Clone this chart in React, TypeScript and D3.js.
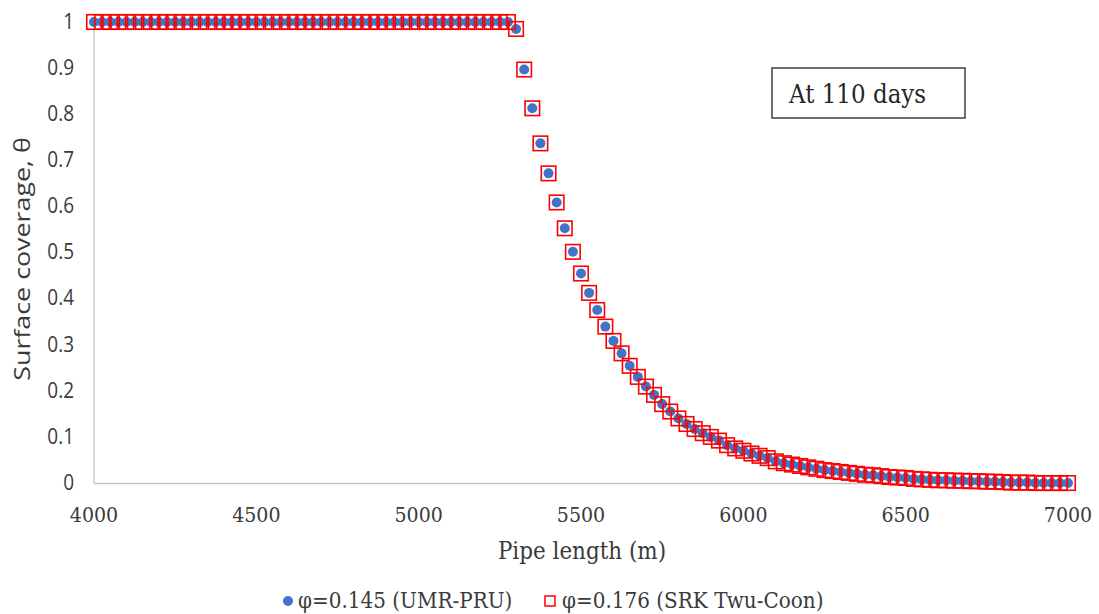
import React from "react";
import * as d3 from "d3";

const pipeLength: number[] = [
  4000, 4025, 4050, 4075, 4100, 4125, 4150, 4175, 4200, 4225, 4250, 4275, 4300, 4325, 4350, 4375,
  4400, 4425, 4450, 4475, 4500, 4525, 4550, 4575, 4600, 4625, 4650, 4675, 4700, 4725, 4750, 4775,
  4800, 4825, 4850, 4875, 4900, 4925, 4950, 4975, 5000, 5025, 5050, 5075, 5100, 5125, 5150, 5175,
  5200, 5225, 5250, 5275, 5300, 5325, 5350, 5375, 5400, 5425, 5450, 5475, 5500, 5525, 5550, 5575,
  5600, 5625, 5650, 5675, 5700, 5725, 5750, 5775, 5800, 5825, 5850, 5875, 5900, 5925, 5950, 5975,
  6000, 6025, 6050, 6075, 6100, 6125, 6150, 6175, 6200, 6225, 6250, 6275, 6300, 6325, 6350, 6375,
  6400, 6425, 6450, 6475, 6500, 6525, 6550, 6575, 6600, 6625, 6650, 6675, 6700, 6725, 6750, 6775,
  6800, 6825, 6850, 6875, 6900, 6925, 6950, 6975, 7000,
];

const coverageUMR: number[] = [
  1, 1, 1, 1, 1, 1, 1, 1, 1, 1, 1, 1, 1, 1, 1, 1,
  1, 1, 1, 1, 1, 1, 1, 1, 1, 1, 1, 1, 1, 1, 1, 1,
  1, 1, 1, 1, 1, 1, 1, 1, 1, 1, 1, 1, 1, 1, 1, 1,
  1, 1, 1, 1, 0.985, 0.897, 0.813, 0.737, 0.672, 0.609, 0.553, 0.502, 0.455, 0.413, 0.376, 0.340,
  0.309, 0.282, 0.255, 0.231, 0.210, 0.192, 0.172, 0.156, 0.141, 0.129, 0.118, 0.109, 0.101, 0.093, 0.083, 0.076,
  0.071, 0.065, 0.060, 0.055, 0.048, 0.044, 0.041, 0.038, 0.035, 0.032, 0.029, 0.027, 0.025, 0.023, 0.021, 0.019,
  0.018, 0.016, 0.014, 0.013, 0.012, 0.010, 0.009, 0.008, 0.007, 0.007, 0.006, 0.006, 0.005, 0.005, 0.004, 0.004,
  0.003, 0.002, 0.002, 0.002, 0.001, 0.001, 0.001, 0.001, 0.001,
];

const coverageSRK: number[] = [
  1, 1, 1, 1, 1, 1, 1, 1, 1, 1, 1, 1, 1, 1, 1, 1,
  1, 1, 1, 1, 1, 1, 1, 1, 1, 1, 1, 1, 1, 1, 1, 1,
  1, 1, 1, 1, 1, 1, 1, 1, 1, 1, 1, 1, 1, 1, 1, 1,
  1, 1, 1, 1, 0.985, 0.897, 0.813, 0.737, 0.672, 0.609, 0.553, 0.502, 0.455, 0.413, 0.376, 0.340,
  0.309, 0.282, 0.255, 0.231, 0.210, 0.192, 0.172, 0.156, 0.141, 0.129, 0.118, 0.109, 0.101, 0.093, 0.083, 0.076,
  0.071, 0.065, 0.060, 0.055, 0.048, 0.044, 0.041, 0.038, 0.035, 0.032, 0.029, 0.027, 0.025, 0.023, 0.021, 0.019,
  0.018, 0.016, 0.014, 0.013, 0.012, 0.010, 0.009, 0.008, 0.007, 0.007, 0.006, 0.006, 0.005, 0.005, 0.004, 0.004,
  0.003, 0.002, 0.002, 0.002, 0.001, 0.001, 0.001, 0.001, 0.001,
];

const xTicks: number[] = [4000, 4500, 5000, 5500, 6000, 6500, 7000];
const yTicks: number[] = [0, 0.1, 0.2, 0.3, 0.4, 0.5, 0.6, 0.7, 0.8, 0.9, 1];

const seriesNames = ["φ=0.145 (UMR-PRU)", "φ=0.176 (SRK Twu-Coon)"];
const annotation = "At 110 days";
const xTitle = "Pipe length (m)";
const yTitle = "Surface coverage, θ";

const W = 1099;
const H = 614;
const SERIF = "'DejaVu Serif', serif";
const SANS = "'Open Sans', sans-serif";
const BLUE = "#4472C4";
const RED = "#FF0000";
const TXT = "#3b3b3b";
const SY = 1.12;

function T(props: {
  x: number;
  y: number;
  anchor?: "start" | "middle" | "end";
  family: string;
  size: number;
  children: React.ReactNode;
  fill?: string;
}) {
  return (
    <g transform={`translate(${props.x},${props.y}) scale(1,${SY})`}>
      <text
        x={0}
        y={0}
        textAnchor={props.anchor || "start"}
        fontFamily={props.family}
        fontSize={props.size}
        fill={props.fill || TXT}
      >
        {props.children}
      </text>
    </g>
  );
}

export default function App() {
  const x = d3.scaleLinear().domain([4000, 7000]).range([94, 1068]);
  const y = d3.scaleLinear().domain([0, 1]).range([483.5, 22]);
  const sq = 14.5;

  return (
    <div style={{ position: "fixed", left: 0, top: 0 }}>
      <svg width={W} height={H} style={{ display: "block", background: "#fff" }}>
        <rect x={0} y={0} width={W} height={H} fill="#fff" />
        {/* axes */}
        <line x1={x(4000)} x2={x(4000)} y1={y(1)} y2={y(0)} stroke="#c4c4c4" strokeWidth={1.3} />
        <line x1={x(4000)} x2={x(7000)} y1={y(0)} y2={y(0)} stroke="#c4c4c4" strokeWidth={1.3} />
        {yTicks.map((t) => (
          <T key={"y" + t} x={74} y={y(t) + 6.5} anchor="end" family={SANS} size={19}>
            {d3.format("~g")(t)}
          </T>
        ))}
        {xTicks.map((t) => (
          <T key={"x" + t} x={x(t)} y={522} anchor="middle" family={SERIF} size={19}>
            {t}
          </T>
        ))}
        <T x={582} y={559} anchor="middle" family={SERIF} size={21.5}>
          {xTitle}
        </T>
        <g transform={`translate(30,259) rotate(-90) scale(1.22,1)`}>
          <text x={0} y={0} textAnchor="middle" fontFamily={SANS} fontSize={22} fill={TXT}>
            {yTitle}
          </text>
        </g>
        {/* series */}
        <g>
          {pipeLength.map((d, i) => (
            <circle key={"c" + i} cx={x(d)} cy={y(coverageUMR[i])} r={5} fill={BLUE} />
          ))}
        </g>
        <g>
          {pipeLength.map((d, i) => (
            <rect
              key={"s" + i}
              x={x(d) - sq / 2}
              y={y(coverageSRK[i]) - sq / 2}
              width={sq}
              height={sq}
              fill="none"
              stroke={RED}
              strokeWidth={1.6}
            />
          ))}
        </g>
        {/* annotation */}
        <rect x={772} y={68} width={193} height={50} fill="#fff" stroke="#404040" strokeWidth={1.5} />
        <T x={789} y={103} family={SERIF} size={23} fill="#262626">
          {annotation}
        </T>
        {/* legend */}
        <circle cx={288} cy={601} r={5} fill={BLUE} />
        <T x={298} y={608} family={SERIF} size={20}>
          {seriesNames[0]}
        </T>
        <rect x={545} y={596} width={10} height={10} fill="none" stroke={RED} strokeWidth={1.5} />
        <T x={562} y={608} family={SERIF} size={20}>
          {seriesNames[1]}
        </T>
      </svg>
    </div>
  );
}
